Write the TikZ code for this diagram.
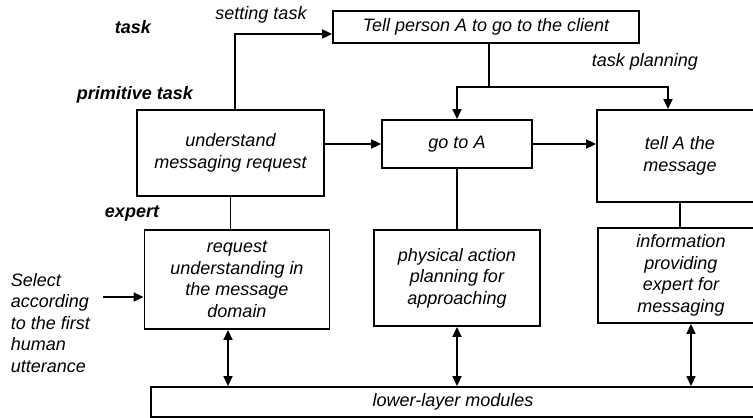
\documentclass[tikz,border=0pt]{standalone}
\usepackage{fontspec}
\setmainfont{Liberation Sans}
\usetikzlibrary{arrows.meta,positioning}

\begin{document}
\begin{tikzpicture}[x=1pt,y=-1pt,line width=1.8pt,>={Triangle[length=10pt,width=9pt]},
	every node/.style={font=\fontsize{18}{21.5}\selectfont\itshape, align=center, inner sep=0pt},
	box/.style={draw, line width=1.8pt},
	tag/.style={font=\fontsize{18}{21.5}\selectfont\bfseries\itshape},
	twoway/.style={<->, line width=1.4pt},]
	\useasboundingbox (0,0) rectangle (753,418);
	% create the nodes
	\node (tell)[box, minimum width=306, minimum height=32] at (486,27) {Tell person A to go to the client};
	\node (und)[box, minimum width=187, minimum height=86] at (230.5,153) {understand\\messaging request};
	\node (goA)[box, minimum width=150, minimum height=48] at (457,144) {go to A};
	\node (tellA)[box, minimum width=166, minimum height=92] at (680,156) {tell A the\\message};
	\node (req)[box, minimum width=185, minimum height=99] at (237,279.5) {request\\understanding in\\the message\\domain};
	\node (phys)[box, minimum width=166, minimum height=96] at (457,278) {physical action\\planning for\\approaching};
	\node (info)[box, minimum width=166, minimum height=95] at (681,275.5) {information\\providing\\expert for\\messaging};
	\node (lower)[box, minimum width=604, minimum height=30] at (453,402) {lower-layer modules};

	% labels
	\node (lbtask)[tag] at (133,27) {task};
	\node (lbset) at (261,15) {setting task};
	\node (lbprim)[tag] at (135,95) {primitive task};
	\node (lbplan) at (645,62) {task planning};
	\node (lbexp)[tag] at (132,213) {expert};
	\node (sel)[anchor=west, align=left] at (10,323) {Select\\according\\to the first\\human\\utterance};

	\coordinate (setturn) at (235,34);
	\coordinate (split) at (489,87);
	\coordinate (selout) at (103,297);

	% connect the nodes
	\draw[->] (und.north -| setturn) -- (setturn) -- (setturn -| tell.west);
	\draw (tell.south -| split) -- (split);
	\draw[->] (split) -| (goA.north);
	\draw[->] (split) -| ([xshift=-12pt]tellA.north);
	\draw[->] (und.east |- goA.west) -- (goA.west);
	\draw[->] (goA.east) -- (goA.east -| tellA.west);
	\draw[line width=1.2pt] (und.south) -- (und.south |- req.north);
	\draw (goA.south) -- (phys.north);
	\draw (tellA.south) -- (tellA.south |- info.north);
	\draw[->] (selout) -- (selout -| req.west);
	\draw[twoway] ([xshift=-9pt]req.south) -- ([xshift=-9pt]req.south |- lower.north);
	\draw[twoway] (phys.south) -- (phys.south |- lower.north);
	\draw[twoway] ([xshift=10pt]info.south) -- ([xshift=10pt]info.south |- lower.north);
\end{tikzpicture}
\end{document}
